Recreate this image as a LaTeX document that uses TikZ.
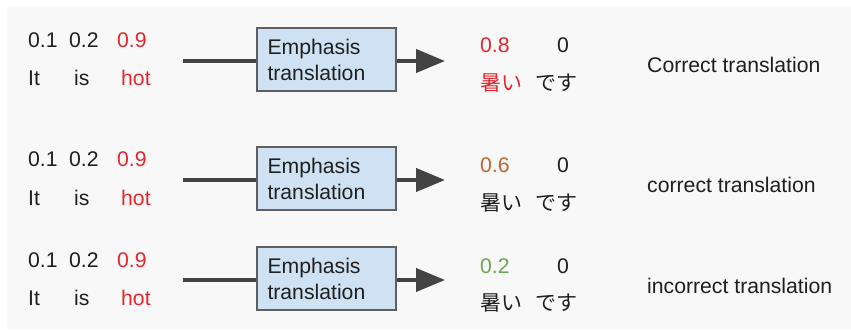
\documentclass[tikz,border=0pt]{standalone}
\usepackage{fontspec}
\setmainfont{Liberation Sans}
\newfontfamily\jpfont{Noto Sans CJK JP}
\usetikzlibrary{arrows.meta}
\definecolor{bgc}{HTML}{F8F8F8}
\definecolor{txt}{HTML}{1F1F1F}
\definecolor{redc}{HTML}{E0282E}
\definecolor{orgc}{HTML}{C0652F}
\definecolor{grnc}{HTML}{6AA84F}
\definecolor{boxfill}{HTML}{CFE2F3}
\definecolor{boxline}{HTML}{5F5F5F}
\definecolor{linec}{HTML}{434343}
\tikzset{
  lbl/.style={anchor=base west, inner sep=0pt, text=txt, font=\fontsize{21.2}{24}\selectfont},
  jlbl/.style={anchor=base west, inner sep=0pt, text=txt, font=\fontsize{21}{24}\selectfont\jpfont},
  ebox/.style={draw=boxline, line width=1.4pt, fill=boxfill, minimum width=139pt, minimum height=63pt,
    text width=118pt, align=left, inner sep=0pt, text=txt, font=\fontsize{21.2}{26}\selectfont},
  conn/.style={draw=linec, line width=4pt},
  tip/.style={-{Triangle[length=29pt,width=23pt]}}
}
\begin{document}
\begin{tikzpicture}[x=1pt,y=-1pt]
\useasboundingbox (0,0) rectangle (851,331);
\fill[bgc] (7,7) rectangle (851,329);
\foreach \i/\dy/\dr/\col/\num/\lab/\jcol in {
  1/0/0/redc/0.8/Correct translation/redc,
  2/119/120/orgc/0.6/correct translation/txt,
  3/219/220/grnc/0.2/incorrect translation/txt}{
  % left side
  \node[lbl] (a\i) at (28,48+\dy) {0.1};
  \node[lbl] (b\i) at (69,48+\dy) {0.2};
  \node[lbl,text=redc] (c\i) at (117,48+\dy) {0.9};
  \node[lbl] (w\i) at (28,86+\dy) {It};
  \node[lbl] (x\i) at (74,86+\dy) {is};
  \node[lbl,text=redc] (h\i) at (121,86+\dy) {hot};
  % connector and box
  \coordinate (s\i) at (183,61+\dy);
  \node[ebox] (e\i) at (326.5,59.5+\dy) {Emphasis\\translation};
  \coordinate (t\i) at (445,61+\dy);
  \draw[conn] (s\i) -- (s\i -| e\i.west);
  \draw[conn,tip] (t\i -| e\i.east) -- (t\i);
  % right side
  \node[lbl,text=\col] (n\i) at (480,53+\dr) {\num};
  \node[lbl] (z\i) at (557,53+\dr) {0};
  \node[jlbl,text=\jcol] (j\i) at (480,90.5+\dr) {暑い};
  \node[jlbl] (d\i) at (535,90.5+\dr) {です};
  \node[lbl] (l\i) at (647,73+\dr) {\lab};
}
\end{tikzpicture}
\end{document}
